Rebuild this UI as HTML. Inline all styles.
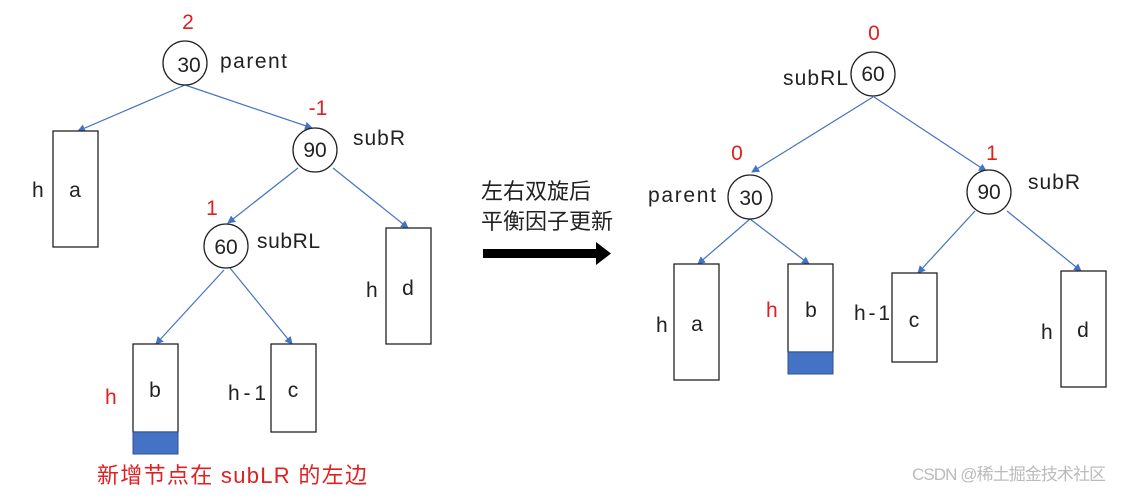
<!DOCTYPE html>
<html><head><meta charset="utf-8"><style>
body{margin:0;background:#fff}
svg text{font-family:"Liberation Sans","Noto Sans CJK SC",sans-serif;font-size:21px;fill:#222}
.r{fill:#e02020}
</style></head><body>
<svg width="1121" height="496" viewBox="0 0 1121 496" xmlns="http://www.w3.org/2000/svg">
<defs><marker id="m" markerWidth="8" markerHeight="8" refX="7" refY="4" orient="auto" markerUnits="userSpaceOnUse"><path d="M0,0 L8,4 L0,8 Z" fill="#4472c4"/></marker></defs>
<g stroke="#4472c4" stroke-width="1.2" marker-end="url(#m)">
<line x1="185" y1="85" x2="78" y2="131"/>
<line x1="185" y1="85" x2="312" y2="128"/>
<line x1="298" y1="168" x2="228" y2="223"/>
<line x1="333" y1="168" x2="408" y2="228"/>
<line x1="224" y1="270" x2="156" y2="344"/>
<line x1="230" y1="268" x2="292" y2="344"/>
<line x1="873" y1="97" x2="752" y2="172"/>
<line x1="874" y1="97" x2="986" y2="171"/>
<line x1="750" y1="219" x2="698" y2="264"/>
<line x1="750" y1="219" x2="809" y2="264"/>
<line x1="975" y1="211" x2="918" y2="273"/>
<line x1="1007" y1="211" x2="1081" y2="271"/>
</g>
<g fill="#fff" stroke="#222" stroke-width="1.3">
<circle cx="185" cy="63" r="22"/><circle cx="315" cy="150" r="22"/><circle cx="226" cy="246" r="22"/>
<circle cx="873" cy="74" r="22"/><circle cx="750" cy="197" r="22"/><circle cx="989" cy="192" r="22"/>
<rect x="53" y="131" width="45" height="116"/><rect x="386" y="228" width="45" height="116"/>
<rect x="133" y="344" width="45" height="88"/><rect x="271" y="344" width="45" height="88"/>
<rect x="674" y="264" width="45" height="116"/><rect x="788" y="264" width="45" height="88"/>
<rect x="892" y="273" width="45" height="89"/><rect x="1061" y="271" width="45" height="116"/>
</g>
<rect x="133" y="432" width="45" height="22" fill="#4472c4" stroke="#2f528f"/>
<rect x="788" y="352" width="45" height="22" fill="#4472c4" stroke="#2f528f"/>
<rect x="483" y="249" width="115" height="9" fill="#000"/>
<path d="M596,242 L611,253.5 L596,265 Z" fill="#000"/>
<g text-anchor="middle">
<text x="189" y="72">30</text><text x="315" y="157">90</text><text x="226" y="254">60</text>
<text x="873" y="81">60</text><text x="751" y="205">30</text><text x="989" y="199">90</text>
<text x="75" y="197">a</text><text x="408" y="295">d</text><text x="155" y="397">b</text><text x="293" y="397">c</text>
<text x="697" y="331">a</text><text x="811" y="317">b</text><text x="914" y="327">c</text><text x="1083" y="337">d</text>
<text class="r" x="188" y="29">2</text><text class="r" x="318" y="115">-1</text><text class="r" x="212" y="215">1</text>
<text class="r" x="874" y="40">0</text><text class="r" x="737" y="160">0</text><text class="r" x="992" y="160">1</text>
</g>
<text x="220" y="68" textLength="67">parent</text><text x="353" y="145" textLength="52">subR</text><text x="257" y="248" textLength="63">subRL</text>
<text x="32" y="197">h</text><text x="366" y="297">h</text><text class="r" x="105" y="404">h</text><text x="228" y="400" textLength="38">h-1</text>
<text x="783" y="85" textLength="65">subRL</text><text x="648" y="202" textLength="68">parent</text><text x="1028" y="189" textLength="52">subR</text>
<text x="656" y="332">h</text><text class="r" x="766" y="317">h</text><text x="854" y="320" textLength="36">h-1</text><text x="1041" y="339">h</text>
<text x="481" y="199" style="font-size:22px">左右双旋后</text><text x="481" y="229" style="font-size:22px">平衡因子更新</text>
<text class="r" x="97" y="483" style="font-size:22px" textLength="270">新增节点在 subLR 的左边</text>
<text x="912" y="480" style="fill:#bbb;font-size:17px" textLength="194">CSDN @稀土掘金技术社区</text>
</svg>
</body></html>
